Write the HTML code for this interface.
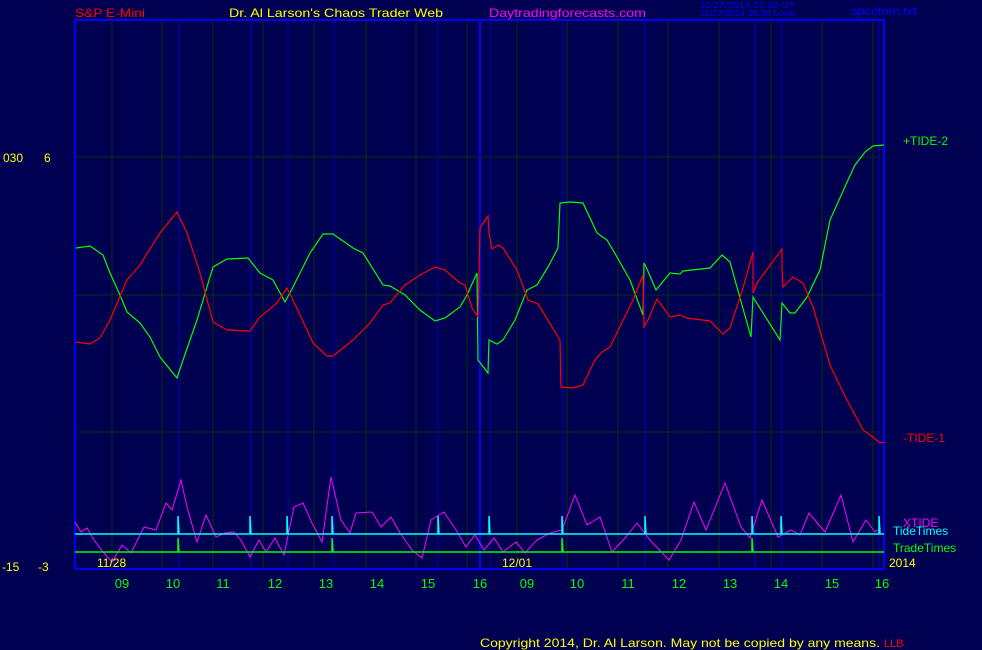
<!DOCTYPE html>
<html><head><meta charset="utf-8"><style>
html,body{margin:0;padding:0;background:#000050;}
svg{display:block;font-family:"Liberation Sans",sans-serif;}
</style></head><body>
<svg width="982" height="650" viewBox="0 0 982 650" xmlns="http://www.w3.org/2000/svg">
<rect width="982" height="650" fill="#000050"/>
<g stroke="#0a300a" stroke-width="1">
<line x1="75" y1="157" x2="884" y2="157"/><line x1="75" y1="295" x2="884" y2="295"/><line x1="75" y1="432" x2="884" y2="432"/>
<line x1="112" y1="20" x2="112" y2="569"/><line x1="162" y1="20" x2="162" y2="569"/><line x1="213" y1="20" x2="213" y2="569"/><line x1="263" y1="20" x2="263" y2="569"/><line x1="314" y1="20" x2="314" y2="569"/><line x1="366" y1="20" x2="366" y2="569"/><line x1="416" y1="20" x2="416" y2="569"/><line x1="467" y1="20" x2="467" y2="569"/><line x1="517" y1="20" x2="517" y2="569"/><line x1="567" y1="20" x2="567" y2="569"/><line x1="618" y1="20" x2="618" y2="569"/><line x1="668" y1="20" x2="668" y2="569"/><line x1="719" y1="20" x2="719" y2="569"/><line x1="771" y1="20" x2="771" y2="569"/><line x1="822" y1="20" x2="822" y2="569"/><line x1="873" y1="20" x2="873" y2="569"/>
</g>
<g stroke="#0000c0" stroke-width="1">
<line x1="179" y1="20" x2="179" y2="569"/><line x1="251" y1="20" x2="251" y2="569"/><line x1="288" y1="20" x2="288" y2="569"/><line x1="334" y1="20" x2="334" y2="569"/><line x1="438" y1="20" x2="438" y2="569"/><line x1="490" y1="20" x2="490" y2="569"/><line x1="563" y1="20" x2="563" y2="569"/><line x1="645" y1="20" x2="645" y2="569"/><line x1="755" y1="20" x2="755" y2="569"/><line x1="782" y1="20" x2="782" y2="569"/><line x1="879" y1="20" x2="879" y2="569"/>
</g>
<line x1="480" y1="20" x2="480" y2="569" stroke="#0000ff" stroke-width="2"/>
<rect x="75" y="20" width="809" height="549" fill="none" stroke="#0000ff" stroke-width="2"/>
<polyline fill="none" stroke="#00ff00" stroke-width="1.2" points="76,248 90,246 103,255 110,273 120,295 127,312 140,323 150,337 160,357 177,378 182,363 197,320 213,267 227,259 248,258 260,273 273,280 285,302 293,287 310,253 323,234 333,234 353,248 363,253 383,285 390,286 405,295 420,310 435,321 445,318 460,307 467,295 477,273 478,360 488,373 489,340 497,344 503,340 515,320 527,290 537,285 548,267 558,248 560,203 570,202 583,203 597,233 607,240 617,257 630,280 643,315 644,263 647,269 656,290 670,273 680,274 683,271 710,268 722,255 730,262 740,298 751,337 753,297 780,340 782,303 790,313 795,313 807,297 820,270 830,220 848,180 855,165 865,152 873,146 884,145"/>
<polyline fill="none" stroke="#ff0000" stroke-width="1.2" points="76,342 90,344 100,338 110,320 127,280 140,265 160,233 177,212 187,233 200,273 213,322 227,330 250,331 260,317 277,303 287,288 293,300 313,343 327,356 333,356 353,340 370,323 383,305 390,303 405,285 420,275 435,267 445,270 460,283 465,285 472,308 478,317 480,228 488,216 489,233 492,249 498,245 503,248 517,270 528,300 538,304 560,340 561,387 573,388 583,385 595,360 602,352 610,347 633,300 643,275 644,327 648,320 657,299 670,317 680,315 687,318 710,321 723,334 730,328 743,288 753,252 753,293 757,283 782,249 782,269 783,287 793,277 803,283 813,307 830,365 847,400 863,430 873,437 880,443 884,442"/>
<polyline fill="none" stroke="#ff00ff" stroke-width="1" points="75,522 81,532 87,528 94,540 103,552 112,562 122,545 131,553 144,527 156,530 166,503 172,510 181,480 187,507 197,542 206,515 216,537 225,533 234,532 241,540 250,557 259,540 266,552 275,538 284,555 294,507 303,503 312,523 322,542 331,477 341,520 350,533 356,513 372,512 381,527 391,517 400,533 412,550 422,558 431,520 444,512 456,530 466,547 475,535 484,550 494,538 503,552 516,542 525,553 537,540 550,533 562,530 575,495 587,525 600,517 612,552 625,538 637,523 650,540 669,560 681,540 694,502 706,530 725,483 741,527 750,538 762,500 778,537 791,530 800,535 809,513 825,532 841,495 853,542 866,520 875,532 881,528"/>
<polyline fill="none" stroke="#00ffff" stroke-width="1.5" points="75,534 178,534 178,516 179,534 250,534 250,516 251,534 287,534 287,516 288,534 332,534 332,516 333,534 438,534 438,516 439,534 489,534 489,516 490,534 562,534 562,516 563,534 645,534 645,516 646,534 752,534 752,516 753,534 781,534 781,516 782,534 879,534 879,516 880,534 884,534"/>
<polyline fill="none" stroke="#00ff00" stroke-width="1.5" points="75,552 178,552 178,538 179,552 332,552 332,538 333,552 562,552 562,538 563,552 752,552 752,538 753,552 884,552"/>
<g font-size="12">
<text x="75" y="17" fill="#ff0000" textLength="70" lengthAdjust="spacingAndGlyphs">S&amp;P E-Mini</text>
<text x="229" y="17" fill="#ffff00" textLength="214" lengthAdjust="spacingAndGlyphs">Dr. Al Larson's Chaos Trader Web</text>
<text x="489" y="17" fill="#ff00ff" textLength="157" lengthAdjust="spacingAndGlyphs">Daytradingforecasts.com</text>
<text x="851" y="15" fill="#0000ff" textLength="66" lengthAdjust="spacingAndGlyphs">spcctom.txt</text>
<text x="3" y="162" fill="#ffff00">030</text><text x="44" y="162" fill="#ffff00">6</text>
<text x="2" y="571" fill="#ffff00">-15</text><text x="38" y="571" fill="#ffff00">-3</text>
<text x="903" y="145" fill="#00ff00">+TIDE-2</text>
<text x="903" y="442" fill="#ff0000">-TIDE-1</text>
<text x="903" y="527" fill="#ff00ff">XTIDE</text>
<text x="893" y="535" fill="#00ffff">TideTimes</text>
<text x="893" y="552" fill="#00ff00">TradeTimes</text>
<text x="97" y="567" fill="#ffff00">11/28</text>
<text x="502" y="567" fill="#ffff00">12/01</text>
<text x="889" y="567" fill="#ffff00">2014</text>
<text x="480" y="647" fill="#ffff00" textLength="400" lengthAdjust="spacingAndGlyphs">Copyright 2014, Dr. Al Larson. May not be copied by any means.</text>
<text x="884" y="647" fill="#ff0000" font-size="11">LLB</text>
</g>
<g font-size="8" fill="#0000ff">
<text x="700" y="8" textLength="95" lengthAdjust="spacingAndGlyphs">11/27/2014 21:30 UT</text>
<text x="700" y="16" textLength="95" lengthAdjust="spacingAndGlyphs">11/27/2014 16:30 Local</text>
</g>
<g font-size="13" fill="#00ff00" text-anchor="middle">
<text x="122" y="588">09</text><text x="173" y="588">10</text><text x="223" y="588">11</text><text x="275" y="588">12</text><text x="326" y="588">13</text><text x="377" y="588">14</text><text x="428" y="588">15</text><text x="480" y="588">16</text><text x="527" y="588">09</text><text x="577" y="588">10</text><text x="628" y="588">11</text><text x="679" y="588">12</text><text x="730" y="588">13</text><text x="781" y="588">14</text><text x="832" y="588">15</text><text x="882" y="588">16</text>
</g>
</svg>
</body></html>
